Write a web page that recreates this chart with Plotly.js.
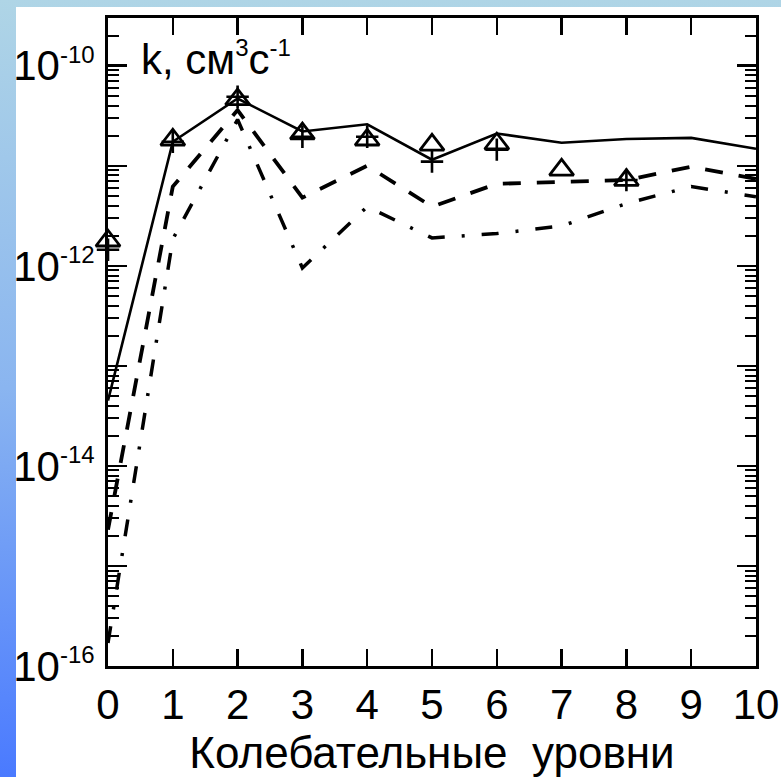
<!DOCTYPE html>
<html>
<head>
<meta charset="utf-8">
<script src="https://cdn.plot.ly/plotly-3.0.1.min.js"></script>
<style>
  html, body { margin: 0; padding: 0; }
  #wrap { position: relative; width: 781px; height: 777px; overflow: hidden;
          background: linear-gradient(to bottom, #afd5e6 0%, #8ab5f0 50%, #4a7aff 100%); }
  #white { position: absolute; left: 16px; top: 7px; right: 0; bottom: 0; background: #ffffff; }
  #chart { position: absolute; left: 0; top: 0; width: 781px; height: 777px; }
</style>
</head>
<body>
<div id="wrap">
  <div id="white"></div>
  <div id="chart"></div>
</div>
<script>
// Vibrational levels
const levels = [0, 1, 2, 3, 4, 5, 6, 7, 8, 9, 10];
// Rate constants k, cm^3 s^-1
const solidK   = [4.5e-14, 1.74e-11, 4.7e-11, 2.2e-11, 2.6e-11, 1.15e-11, 2.1e-11, 1.7e-11, 1.85e-11, 1.9e-11, 1.48e-11];
const dashedK  = [2.3e-15, 6.2e-12, 3.6e-11, 4.8e-12, 1.0e-11, 3.9e-12, 6.6e-12, 6.9e-12, 7.2e-12, 9.8e-12, 7.4e-12];
const dashdotK = [1.7e-16, 1.85e-12, 2.9e-11, 9.5e-13, 3.9e-12, 1.9e-12, 2.1e-12, 2.5e-12, 4.2e-12, 6.2e-12, 4.9e-12];
// Experimental points
const triLevels = [0, 1, 2, 3, 4, 5, 6, 7, 8];
const triK      = [1.78e-12, 1.82e-11, 4.6e-11, 2.1e-11, 1.82e-11, 1.62e-11, 1.66e-11, 9.1e-12, 7.2e-12];
const crossLevels = [0, 1, 2, 3, 4, 5, 6, 8];
const crossK      = [1.45e-12, 1.74e-11, 4.9e-11, 1.95e-11, 1.95e-11, 1.1e-11, 1.45e-11, 7.2e-12];
// Axis ticks
const xTickVals = levels;
const xTickText = levels.map(String);
const yLabelVals = [1e-16, 1e-14, 1e-12, 1e-10];
const yLabelText = ['10<sup><span style="font-size:24px">-16</span></sup>',
                    '10<sup><span style="font-size:24px">-14</span></sup>',
                    '10<sup><span style="font-size:24px">-12</span></sup>',
                    '10<sup><span style="font-size:24px">-10</span></sup>'];
const yOddDecades = [1e-15, 1e-13, 1e-11];
const yLabel = 'k, см<sup><span style="font-size:24px">3</span></sup>с<sup><span style="font-size:24px">-1</span></sup>';
const xTitle = 'Колебательные&nbsp; уровни';

const FONT = '"Liberation Sans", Arial, sans-serif';
const YRANGE = [-16, Math.log10(3e-10)];

const traces = [
  { x: levels, y: dashdotK, mode: 'lines', line: { color: '#000', width: 3.5, dash: '17px,17px,3px,17px' }, cliponaxis: false },
  { x: levels, y: dashedK,  mode: 'lines', line: { color: '#000', width: 3.8, dash: '18px,16px' }, cliponaxis: false },
  { x: levels, y: solidK,   mode: 'lines', yaxis: 'y2', line: { color: '#000', width: 2.6 }, cliponaxis: false },
  { x: crossLevels, y: crossK, mode: 'markers', cliponaxis: false,
    marker: { symbol: 'cross-thin-open', size: 16, color: '#000', line: { color: '#000', width: 2.6 } } },
  { x: triLevels, y: triK, mode: 'markers', cliponaxis: false,
    marker: { symbol: 'triangle-up-open', size: 21, color: '#000', line: { color: '#000', width: 2.8 } } }
];

const layout = {
  width: 781, height: 777,
  margin: { l: 108, r: 25, t: 18, b: 111 },
  paper_bgcolor: 'rgba(0,0,0,0)',
  plot_bgcolor: '#ffffff',
  showlegend: false,
  font: { family: FONT, color: '#000', size: 42 },
  xaxis: {
    range: [0, 10], tickmode: 'array', tickvals: xTickVals, ticktext: xTickText,
    ticks: 'inside', ticklen: 17, tickwidth: 2.5, tickcolor: '#000',
    showline: true, linecolor: '#000', linewidth: 3, mirror: 'ticks',
    showgrid: false, zeroline: false,
    tickfont: { family: FONT, size: 42, color: '#000' },
    title: { text: xTitle, font: { family: FONT, size: 44, color: '#000' }, standoff: 25 }
  },
  yaxis: {
    type: 'log', range: YRANGE,
    tickmode: 'array', tickvals: yLabelVals, ticktext: yLabelText,
    ticks: 'inside', ticklen: 19, tickwidth: 2.5, tickcolor: '#000',
    minor: { dtick: 'D1', ticks: 'inside', ticklen: 11, tickwidth: 2, tickcolor: '#000', showgrid: false },
    showline: true, linecolor: '#000', linewidth: 3, mirror: 'ticks',
    showgrid: false, zeroline: false, ticklabelstandoff: 2,
    tickfont: { family: FONT, size: 42, color: '#000' }
  },
  yaxis2: {
    type: 'log', range: YRANGE, overlaying: 'y', side: 'left',
    tickmode: 'array', tickvals: yOddDecades, showticklabels: false,
    ticks: 'inside', ticklen: 19, tickwidth: 2.5, tickcolor: '#000',
    showline: true, linecolor: '#000', linewidth: 3, mirror: 'ticks',
    showgrid: false, zeroline: false
  },
  annotations: [{
    xref: 'paper', yref: 'paper', x: 0.048, y: 0.978, xanchor: 'left', yanchor: 'top',
    text: yLabel, showarrow: false, font: { family: FONT, size: 42, color: '#000' }
  }]
};

Plotly.newPlot('chart', traces, layout, { staticPlot: true, displayModeBar: false });
</script>
</body>
</html>
